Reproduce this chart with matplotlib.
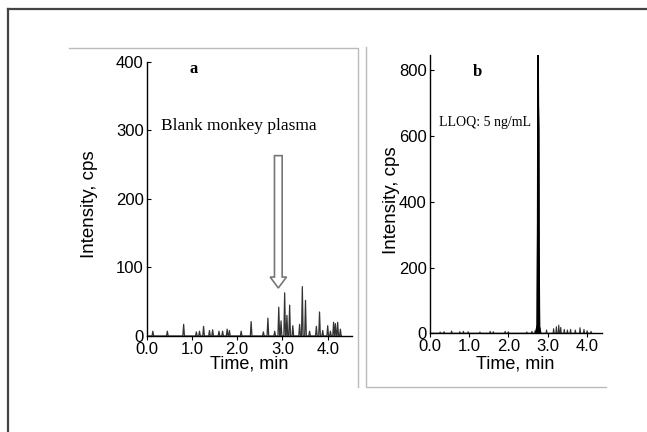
import matplotlib
matplotlib.use('Agg')
import matplotlib.pyplot as plt
import numpy as np
from matplotlib.lines import Line2D
from matplotlib.patches import FancyArrow

# panel a: blank monkey plasma (peak time, peak intensity)
a_times = [0.14, 0.46, 0.82, 1.10, 1.17, 1.26, 1.39, 1.46, 1.60, 1.68, 1.78, 1.83,
           2.09, 2.31, 2.58, 2.68, 2.83, 2.92, 2.97, 3.05, 3.10, 3.16, 3.23, 3.38,
           3.44, 3.51, 3.60, 3.75, 3.82, 3.89, 4.00, 4.06, 4.13, 4.17, 4.22, 4.28]
a_heights = [7, 7, 17, 6, 7, 14, 8, 9, 7, 7, 10, 8,
             7, 21, 6, 26, 7, 42, 22, 63, 30, 45, 15, 17,
             72, 52, 7, 14, 35, 8, 15, 7, 20, 18, 20, 10]

# panel b: LLOQ 5 ng/mL
b_times = [0.27, 0.37, 0.56, 0.77, 0.86, 0.98, 1.28, 1.54, 1.62, 1.92, 2.0,
           2.47, 2.60, 2.68, 2.97, 3.15, 3.22, 3.28, 3.33, 3.42, 3.50, 3.58,
           3.70, 3.82, 3.92, 4.00, 4.10]
b_heights = [4, 5, 7, 5, 6, 5, 4, 6, 5, 6, 5,
             4, 6, 8, 10, 14, 20, 25, 18, 12, 10, 12,
             10, 17, 12, 8, 6]
b_peak_t = [2.70, 2.735, 2.745, 2.755, 2.762, 2.770, 2.778, 2.79, 2.82]
b_peak_i = [0, 25, 300, 845, 690, 620, 250, 20, 0]


def trace(times, heights, hw):
    xs, ys = [0.0], [0.0]
    for t, h in zip(times, heights):
        xs += [t - hw, t, t + hw]
        ys += [0, h, 0]
    return xs, ys


W, H = 647, 432
fig = plt.figure(figsize=(6.47, 4.32), dpi=100)

def fx(px):
    return px / W

def fy(py):
    return 1 - py / H

sans = 'Liberation Sans'

# outer border and panel frames
fig.add_artist(Line2D([fx(8), 1], [fy(9), fy(9)], color='#444444', lw=1.6))
fig.add_artist(Line2D([fx(8), fx(8)], [fy(9), 0], color='#444444', lw=1.6))
fig.add_artist(Line2D([fx(69), fx(358), fx(358)], [fy(48), fy(48), fy(387)], color='#bbbbbb', lw=1))
fig.add_artist(Line2D([fx(366), fx(366), fx(606)], [fy(47), fy(387), fy(387)], color='#bbbbbb', lw=1))


def style(ax, ylab_x, xlab_y):
    for s in ['top', 'right']:
        ax.spines[s].set_visible(False)
    for s in ['left', 'bottom']:
        ax.spines[s].set_linewidth(1.0)
    ax.tick_params(axis='x', direction='out', length=3, width=0.8, pad=1)
    ax.tick_params(axis='y', direction='in', length=3, width=0.8, pad=2)
    for lab in ax.get_xticklabels() + ax.get_yticklabels():
        lab.set_family(sans)
        lab.set_fontsize(12)
    ax.set_xlabel('Time, min', family=sans, fontsize=13)
    ax.set_ylabel('Intensity, cps', family=sans, fontsize=13.5)
    ax.yaxis.set_label_coords(ylab_x, 0.48)
    ax.xaxis.set_label_coords(0.5, xlab_y)


# panel a
ax = fig.add_axes([fx(146.5), fy(336), (351.7 - 146.5) / W, (336 - 61.7) / H])
xs, ys = trace(a_times, a_heights, 0.018)
xs.append(4.3)
ys.append(0)
ax.plot(xs, ys, color='#333333', lw=0.9)
ax.set_xlim(0, 4.53)
ax.set_ylim(0, 400)
ax.set_xticks([0, 1, 2, 3, 4])
ax.set_xticklabels(['0.0', '1.0', '2.0', '3.0', '4.0'])
ax.set_yticks([0, 100, 200, 300, 400])
style(ax, -0.236, -0.072)
ax.text(1.05, 390, 'a', family='Liberation Serif', fontweight='bold', fontsize=12, ha='center', va='center')
ax.text(0.33, 306, 'Blank monkey plasma', family='Liberation Serif', fontsize=12.5, ha='left', va='center')
ax.add_patch(FancyArrow(2.91, 263, 0, -193, width=0.17, head_width=0.36, head_length=16,
                        length_includes_head=True, facecolor='white', edgecolor='#777777', lw=1.2))

# panel b
ax = fig.add_axes([fx(429.5), fy(333.3), (601.7 - 429.5) / W, (333.3 - 55) / H])
xs, ys = trace(b_times, b_heights, 0.015)
ax.plot(xs, ys, color='#333333', lw=0.8)
ax.plot(b_peak_t, b_peak_i, color='black', lw=1.2)
ax.fill(b_peak_t, b_peak_i, color='black')
ax.plot([0, 4.2], [0, 0], color='#333333', lw=0.8)
ax.set_xlim(0, 4.37)
ax.set_ylim(0, 846)
ax.set_xticks([0, 1, 2, 3, 4])
ax.set_xticklabels(['0.0', '1.0', '2.0', '3.0', '4.0'])
ax.set_yticks([0, 200, 400, 600, 800])
style(ax, -0.171, -0.08)
ax.text(1.22, 795, 'b', family='Liberation Serif', fontweight='bold', fontsize=12, ha='center', va='center')
ax.text(0.25, 640, 'LLOQ: 5 ng/mL', family='Liberation Serif', fontsize=10, ha='left', va='center')

fig.savefig('out.png', dpi=100)
plt.close(fig)
